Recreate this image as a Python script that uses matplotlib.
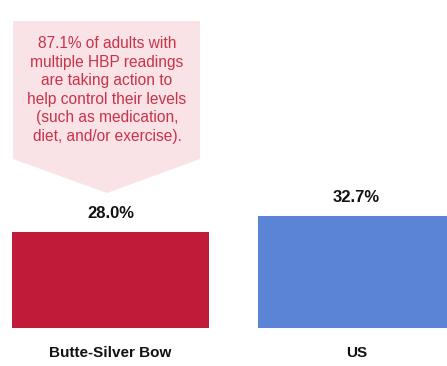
import matplotlib.pyplot as plt
from matplotlib.patches import Polygon

categories = ["Butte-Silver Bow", "US"]
values = [28.0, 32.7]
colors = ["#c01b38", "#5b84d6"]
callout = ("87.1% of adults with\nmultiple HBP readings\nare taking action to\n"
           "help control their levels\n(such as medication,\ndiet, and/or exercise).")

W, H = 447, 366
fig = plt.figure(figsize=(W / 100, H / 100), dpi=100)

# axes spans figure width, bottom at bar baseline (y=328 px)
base = 328
ax = fig.add_axes([0, (H - base) / H, 1, base / H])
ax.set_xlim(-110.5 / 246, (W - 110.5) / 246)
ax.set_ylim(0, base / 3.43)
ax.axis("off")

x = list(range(len(categories)))
ax.bar(x, values, width=0.8, color=colors)
for xi, v in zip(x, values):
    ax.annotate(f"{v:.1f}%", (xi, v), xytext=(0, 8), textcoords="offset points",
                ha="center", va="bottom", fontsize=12, fontweight="bold",
                family="Liberation Sans", color="#111111")
    ax.annotate(categories[xi], (xi, 0), xytext=(0, -13), textcoords="offset points",
                ha="center", va="top", fontsize=11, fontweight="bold",
                family="Liberation Sans", color="#111111")

# callout arrow box above first bar
pts = [(13, 21), (200, 21), (200, 159), (107, 193), (13, 159)]
poly = Polygon([(px / W, 1 - py / H) for px, py in pts], closed=True,
               transform=fig.transFigure, facecolor="#fae3e6", edgecolor="none")
fig.patches.append(poly)
fig.text(107 / W, 1 - 90 / H, callout, ha="center", va="center", fontsize=11.2,
         family="Liberation Sans", color="#c8334a", linespacing=1.3)

fig.savefig("out.png", dpi=100)
